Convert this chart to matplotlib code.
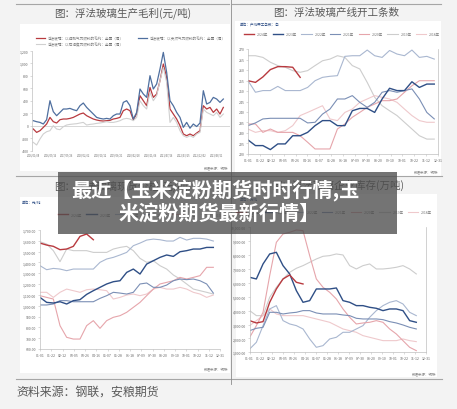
import matplotlib.pyplot as plt
import numpy as np
from matplotlib.patches import Rectangle

plt.rcParams['font.family'] = ['Noto Sans CJK SC', 'DejaVu Sans']

# ---- 数据 ----
# 图1：浮法玻璃生产毛利（元/吨），周度
p1_labels = ["以煤制气为燃料", "以天然气为燃料", "以石油焦为燃料"]
margin_coal = [-53, -107, -80, -27, 27, 133, 64, 43, 96, 107,
               107, 117, 133, 160, 187, 203, 160, 133, 107, 91,
               80, 75, 80, 85, 107, 117, 133, 240, 267, 240,
               96, 187, 480, 400, 320, 613, 453, 507, 720, 987,
               773, 267, 187, 107, 0, -133, -160, -133, -160, -117,
               -80, 320, 267, 293, 213, 267, 187, 293]
margin_gas = [80, 64, 53, 27, 96, 400, 224, 160, 213, 267,
              267, 277, 256, 240, 320, 363, 293, 240, 187, 133,
              117, 107, 117, 107, 160, 187, 187, 373, 400, 320,
              107, 213, 587, 507, 453, 800, 587, 667, 907, 1173,
              853, 400, 320, 213, 133, -27, 53, -40, 27, -13,
              43, 560, 347, 373, 453, 427, 373, 427]
margin_coke = [-267, -309, -213, -133, -96, -80, 0, -53, -64, -16,
               11, 21, 27, 32, 43, 53, 11, 21, 27, 37,
               43, 53, 64, 53, 53, 64, 80, 107, 117, 107,
               80, 133, 400, 320, 267, 533, 400, 480, 720, 933,
               693, 53, 133, 53, -80, -160, -187, -160, -187, -133,
               -107, 267, 213, 187, 160, 213, 133, 187]
p1_dates = ["2016/01/08", "2016/09/16", "2017/05/26", "2018/02/02",
            "2018/10/12", "2019/06/21", "2020/02/28", "2020/11/06",
            "2021/07/16", "2022/03/25", "2022/12/02", "2023/08/11"]

years = ["2024年", "2023年", "2022年", "2021年", "2020年", "2019年", "2018年"]
week_labels = ["01-01", "01-22", "02-12", "03-05", "03-26", "04-16", "05-07",
               "05-28", "06-18", "07-09", "07-30", "08-20", "09-10", "10-01",
               "10-22", "11-12", "12-31"]

# 图2：浮法玻璃产线开工条数
lines_2024 = [254.9, 254.1, 256.7, 260.2, 261.6, 261.6, 261.3, 256.5]
lines_2023 = [226.7, 224.0, 224.0, 222.1, 224.8, 224.8, 228.7, 228.7, 230.3, 233.5,
              235.9, 235.9, 233.5, 233.5, 240.6, 241.7, 241.7, 239.8, 246.2, 251.3,
              250.2, 250.2, 254.4, 251.7, 253.3, 253.3]
lines_2022 = [254.9, 249.4, 250.2, 250.2, 252.2, 250.2, 250.2, 250.2, 251.7, 254.9,
              256.5, 257.0, 257.3, 266.5, 266.8, 266.8, 269.5, 266.8, 266.0, 269.3,
              267.6, 266.8, 269.5, 266.0, 266.5, 265.2]
lines_2021 = [233.5, 234.8, 236.7, 237.0, 237.0, 237.0, 237.0, 237.0, 234.8, 235.1,
              239.0, 241.4, 246.2, 246.2, 247.8, 244.6, 242.2, 244.6, 249.4, 250.2,
              249.4, 250.2, 251.0, 246.2, 239.8, 236.7]
lines_2020 = [234.3, 234.3, 230.3, 231.9, 230.3, 230.3, 230.3, 228.7, 225.6, 222.4,
              222.4, 222.4, 231.9, 234.3, 237.5, 239.8, 242.2, 243.8, 245.4, 245.4,
              246.2, 249.4, 252.5, 254.9, 254.9, 254.9]
lines_2019 = [266.8, 266.8, 266.0, 263.7, 262.1, 261.3, 259.7, 258.9, 259.7, 262.1,
              264.4, 265.2, 266.8, 266.0, 262.1, 260.5, 254.1, 247.0, 243.0, 240.6,
              238.3, 235.1, 231.9, 228.7, 227.1, 227.1]
lines_2018 = [231.9, 230.3, 231.1, 231.1, 230.3, 231.1, 233.5, 238.3, 239.8, 241.4,
              243.0, 236.7, 235.9, 239.8, 241.4, 244.6, 246.2, 247.8, 247.0, 246.2,
              244.6, 241.4, 238.3, 235.9, 235.1, 235.1]

# 图3：浮法玻璃现货价格（元/吨）
price_2024 = [1579, 1561, 1549, 1518, 1524, 1549, 1641, 1663, 1610]
price_2023 = [1077, 1031, 1025, 1037, 1016, 1047, 1056, 1105, 1139, 1170,
              1201, 1222, 1231, 1308, 1339, 1293, 1385, 1416, 1447, 1469,
              1456, 1499, 1509, 1524, 1524, 1539, 1539]
price_2022 = [1370, 1333, 1345, 1339, 1324, 1339, 1339, 1339, 1339, 1401,
              1432, 1447, 1469, 1493, 1555, 1579, 1607, 1616, 1610, 1598,
              1598, 1632, 1607, 1623, 1623, 1616, 1598]
price_2021 = [1007, 1007, 1016, 1047, 1047, 1037, 1037, 1037, 1037, 1068,
              1093, 1124, 1117, 1108, 1124, 1201, 1210, 1170, 1170, 1191,
              1231, 1247, 1241, 1247, 1231, 1201, 1117]
price_2020 = [1093, 1077, 1062, 816, 708, 692, 692, 816, 862, 791,
              862, 893, 908, 939, 985, 1031, 1093, 1154, 1201, 1216,
              1231, 1262, 1247, 1262, 1278, 1355, 1355]
price_2019 = [1592, 1570, 1509, 1407, 1524, 1509, 1509, 1509, 1493, 1493,
              1493, 1524, 1539, 1549, 1509, 1438, 1401, 1416, 1370, 1339,
              1284, 1247, 1201, 1154, 1139, 1124, 1108]
price_2018 = [1124, 1124, 1077, 1124, 1154, 1139, 1124, 1148, 1154, 1148,
              1139, 1062, 1077, 1099, 1108, 1093, 1108, 1154, 1170, 1154,
              1154, 1170, 1154, 1124, 1108, 1077, 1099]

# 图4：浮法玻璃企业库存
stock_2024 = [3280, 3112, 3208, 4600, 5560, 6280, 6568, 6040, 5920]
stock_2023 = [6400, 6280, 7360, 8080, 8200, 7240, 6640, 5440, 4600, 4720,
              5560, 5560, 5560, 5632, 4720, 4600, 4360, 4360, 4240, 4168,
              4000, 4120, 4120, 4000, 3280, 3160]
stock_2022 = [1240, 1720, 2920, 4120, 4360, 3280, 3040, 2920, 2680, 1960,
              1360, 1480, 1960, 2080, 2440, 2440, 2680, 2920, 3520, 4000,
              4360, 4600, 4720, 4480, 3880, 3640]
stock_2021 = [2560, 2728, 2800, 3880, 3880, 3760, 3832, 3880, 4000, 4000,
              3832, 3760, 3760, 3760, 3688, 3640, 3448, 3400, 3400, 3400,
              3352, 3208, 3112, 2968, 2800, 2680]
stock_2020 = [2080, 2920, 3880, 6520, 8920, 9520, 9640, 9808, 9760, 7960,
              6280, 5680, 5320, 4840, 4120, 3520, 3040, 3112, 3160, 3280,
              3160, 2680, 2320, 1840, 1360, 1120]
stock_2019 = [4000, 3640, 3640, 4960, 5680, 6280, 6760, 7048, 7240, 7480,
              7720, 7912, 7960, 8080, 8008, 7240, 7000, 7240, 7360, 7000,
              7000, 7048, 7120, 7240, 7000, 6640]
stock_2018 = [2920, 3280, 3640, 4120, 3760, 3640, 3640, 3640, 3640, 3520,
              3400, 3280, 3160, 2920, 2680, 2560, 2440, 2200, 2080, 1960,
              1840, 1840, 1840, 1960, 1840, 1768]

year_colors = ['#b83a3f', '#2f4f86', '#a9b7d0', '#7b8fb5', '#e6a5ab', '#cdcdcd', '#efc9cc']
year_widths = [1.0, 1.0, 0.8, 0.8, 0.8, 0.8, 0.8]

# ---- 画布 ----
W, H = 457, 410


def box(x0, y0, x1, y1):
    # 像素坐标 -> figure 坐标
    return [x0 / W, 1 - y1 / H, (x1 - x0) / W, (y1 - y0) / H]


fig = plt.figure(figsize=(4.57, 4.10), dpi=100, facecolor='#f3f3f3')

bg = fig.add_axes([0, 0, 1, 1], zorder=0)
bg.set_xlim(0, W)
bg.set_ylim(H, 0)
bg.axis('off')

# 白色图块
for x0, y0, x1, y1 in [(20, 25, 230, 172), (235, 22, 441, 177),
                       (20, 198, 230, 374), (236, 195, 437, 378)]:
    bg.add_patch(Rectangle((x0, y0), x1 - x0, y1 - y0, facecolor='white', edgecolor='none'))

# 分隔线
sep = dict(color='#a6a6a6', lw=0.8)
bg.plot([16, 229], [5, 5], **sep)
bg.plot([232, 441], [5, 5], **sep)
bg.plot([16, 442], [177, 177], **sep)
bg.plot([16, 442], [380, 380], **sep)
bg.plot([230.5, 230.5], [0, 385], color='#8c8c8c', lw=0.6)

# 标题
title_kw = dict(ha='center', va='center', fontsize=7.6, color='#595959')
bg.text(123, 13, "图：浮法玻璃生产毛利(元/吨)", **title_kw)
bg.text(336, 13, "图：浮法玻璃产线开工条数", **title_kw)
bg.text(123, 186, "图：浮法玻璃现货价格(元/吨)", **title_kw)
bg.text(338, 185, "图：浮法玻璃企业库存(万吨)", **title_kw)
bg.text(16, 392, "资料来源：钢联，安粮期货", ha='left', va='center', fontsize=8.6, color='#595959')

# 数据来源小字
note_kw = dict(ha='right', va='center', fontsize=2.5, color='#888888')
bg.text(228, 168, "数据来源：钢联", **note_kw)
bg.text(438, 172, "数据来源：钢联", **note_kw)
bg.text(228, 369, "数据来源：钢联", **note_kw)
bg.text(436, 374, "数据来源：钢联", **note_kw)

unit_kw = dict(ha='left', va='center', fontsize=2.6, color='#2f4f86')
bg.text(240, 25, "单位：产线开工条数：条", **unit_kw)
bg.text(22, 203, "单位：元/吨", **unit_kw)
bg.text(240, 200, "单位：万吨", **unit_kw)


def style(ax, xlim, ylim, yticks, yfmt, xticks, xlabels, bottom=True, right=False):
    ax.set_facecolor('none')
    ax.set_xlim(*xlim)
    ax.set_ylim(*ylim)
    ax.set_yticks(yticks)
    ax.set_yticklabels([yfmt.format(v) for v in yticks])
    ax.set_xticks(xticks)
    ax.set_xticklabels(xlabels)
    for s in ['top', 'right', 'left', 'bottom']:
        ax.spines[s].set_color('#bfbfbf')
        ax.spines[s].set_linewidth(0.5)
    ax.spines['top'].set_visible(False)
    ax.spines['right'].set_visible(right)
    ax.spines['bottom'].set_visible(bottom)
    ax.tick_params(labelsize=2.5, length=1.2, width=0.4, color='#bfbfbf',
                   labelcolor='#666666', pad=1.5)


def year_chart(ax, series):
    # 浅色的年份先画，当年的深色线最后画
    for order in [5, 6, 2, 4, 3, 1, 0]:
        vals = series[order]
        ax.plot(np.arange(len(vals)), vals, color=year_colors[order],
                lw=year_widths[order], label=years[order])


def year_legend(ax, loc, anchor):
    h, l = ax.get_legend_handles_labels()
    idx = [l.index(y) for y in years]
    ax.legend([h[i] for i in idx], years, loc=loc, bbox_to_anchor=anchor, ncol=7,
              fontsize=2.5, frameon=False, handlelength=3, columnspacing=1.2,
              labelcolor='#777777')


# ---- 图1 ----
ax1 = fig.add_axes(box(32.3, 51.7, 230, 151.7), zorder=1)
x1 = np.arange(len(margin_gas))
ax1.axhline(0, color='#c8c8c8', lw=0.5)
ax1.plot(x1, margin_coal, color='#b83a3f', lw=0.9, label="浮法玻璃：" + p1_labels[0] + "的毛利：全国（周）")
ax1.plot(x1, margin_coke, color='#d0d0d0', lw=0.8, label="浮法玻璃：" + p1_labels[2] + "的毛利：全国（周）")
ax1.plot(x1, margin_gas, color='#4f6f9f', lw=0.9, label="浮法玻璃：" + p1_labels[1] + "的毛利：全国（周）")
style(ax1, (-0.3, 59), (-400, 1200), np.arange(-400, 1201, 200), "{:,}",
      np.arange(0, 56, 5), p1_dates, bottom=False)
ax1.tick_params(axis='x', length=0, labelsize=1.8)
ax1.legend(loc='center', bbox_to_anchor=(0.5, 1.097), ncol=2, fontsize=2.6, frameon=False,
           handlelength=2.5, columnspacing=4, labelcolor='#777777')

# ---- 图2 ----
ax2 = fig.add_axes(box(248, 50, 438, 155), zorder=1)
year_chart(ax2, [lines_2024, lines_2023, lines_2022, lines_2021, lines_2020, lines_2019, lines_2018])
style(ax2, (0, 25.5), (220, 270), np.arange(220, 271, 5), "{}",
      np.linspace(0, 25.5, 17), week_labels, right=True)
year_legend(ax2, 'center', (0.495, 1.143))

# ---- 图3 ----
ax3 = fig.add_axes(box(40, 231, 220, 350), zorder=1)
year_chart(ax3, [price_2024, price_2023, price_2022, price_2021, price_2020, price_2019, price_2018])
style(ax3, (0, 27), (600, 1700), np.arange(600, 1701, 100), "{:,.2f}",
      np.linspace(0, 27, 17), week_labels)
year_legend(ax3, 'center left', (0.08, 1.13))

# ---- 图4 ----
ax4 = fig.add_axes(box(249.7, 228.3, 426.3, 353.3), zorder=1)
year_chart(ax4, [stock_2024, stock_2023, stock_2022, stock_2021, stock_2020, stock_2019, stock_2018])
style(ax4, (0, 26.5), (1000, 10000), np.arange(1000, 10001, 1000), "{:,.2f}",
      np.linspace(0, 26.5, 17), week_labels, right=True)
year_legend(ax4, 'center', (0.477, 1.122))

# ---- 标题横幅 ----
top = fig.add_axes([0, 0, 1, 1], zorder=10)
top.set_xlim(0, W)
top.set_ylim(H, 0)
top.axis('off')
top.patch.set_alpha(0)
top.add_patch(Rectangle((58, 173), 339, 62, facecolor='#4d4d4d', alpha=0.78, edgecolor='none'))
banner_kw = dict(ha='center', va='center', fontsize=14.5, color='white', fontweight='bold')
top.text(215, 191, "最近【玉米淀粉期货时时行情,玉", **banner_kw)
top.text(219, 213, "米淀粉期货最新行情】", **banner_kw)

fig.savefig('out.png', dpi=100, facecolor=fig.get_facecolor())
